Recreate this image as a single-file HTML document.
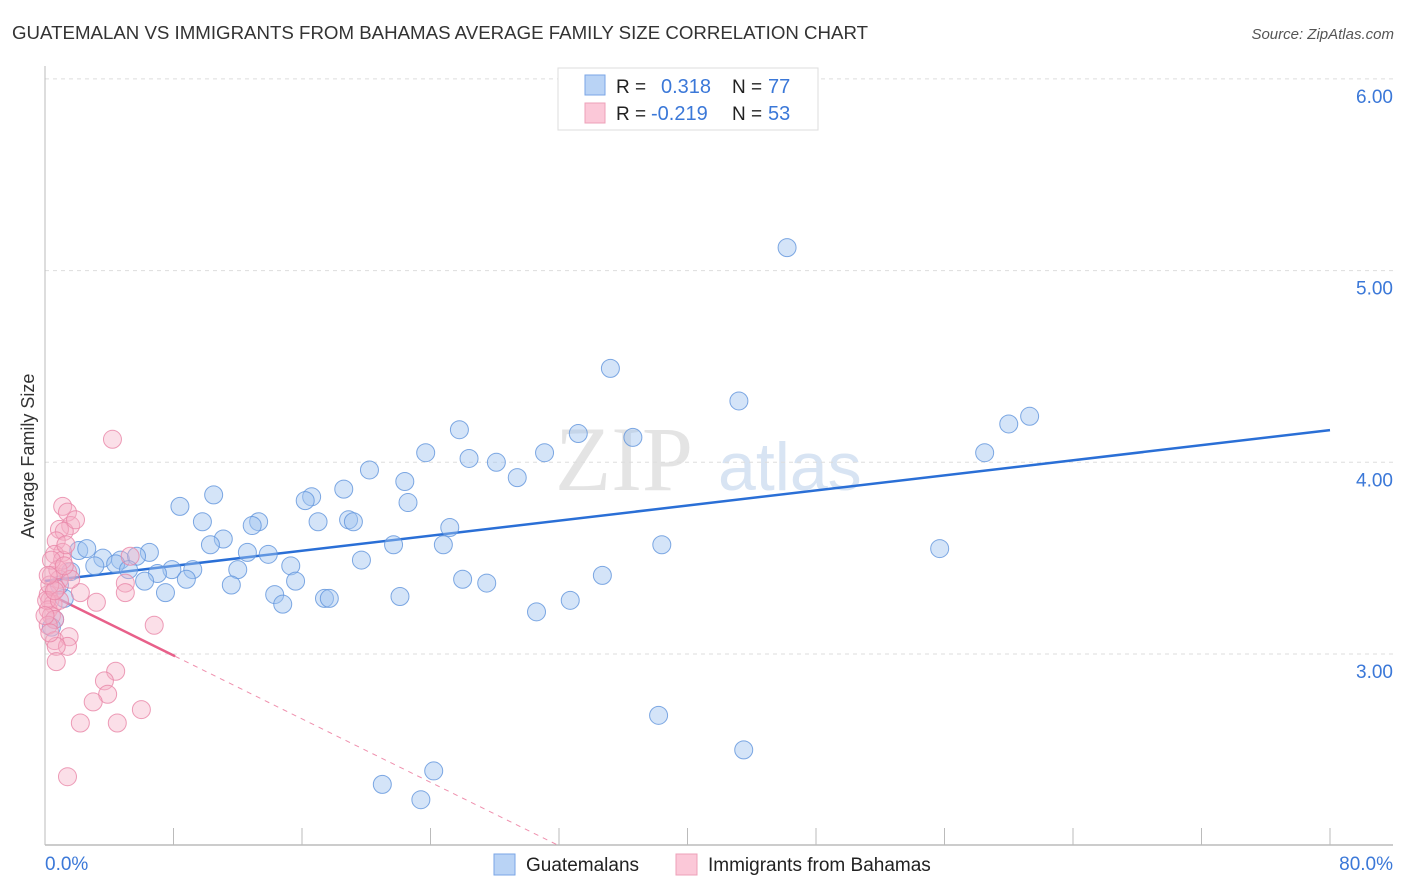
<!DOCTYPE html>
<html><head><meta charset="utf-8"><style>
html,body{margin:0;padding:0;background:#fff;}
svg{display:block;font-family:"Liberation Sans",sans-serif;}
</style></head><body>
<svg id="chart" width="1406" height="892" viewBox="0 0 1406 892" xmlns="http://www.w3.org/2000/svg">
<text x="12" y="39" font-size="18" fill="#333" textLength="856" lengthAdjust="spacingAndGlyphs">GUATEMALAN VS IMMIGRANTS FROM BAHAMAS AVERAGE FAMILY SIZE CORRELATION CHART</text>
<text x="1394" y="39" font-size="15" fill="#555" font-style="italic" text-anchor="end">Source: ZipAtlas.com</text>
<g>
<text x="555" y="490" font-size="92" font-family="Liberation Serif,serif" fill="#ddd" fill-opacity="0.8">ZIP</text>
<text x="718" y="490" font-size="68" fill="#c8d8ee" fill-opacity="0.7">atlas</text>
</g>
<g id="grid"></g>
<g id="axes"></g>
<g id="lines"></g>
<g id="points"></g>
<text transform="translate(34,456) rotate(-90)" font-size="18" fill="#333" text-anchor="middle">Average Family Size</text>
<g>
<rect x="558" y="68" width="260" height="62" fill="#fff" stroke="#ddd"/>
<rect x="585" y="75" width="20" height="20" fill="#b9d3f5" stroke="#7aa6e6"/>
<rect x="585" y="103" width="20" height="20" fill="#fbc8d8" stroke="#eea0b8"/>
<text x="616" y="93" font-size="19" fill="#222">R =</text>
<text x="661" y="93" font-size="20" fill="#3b78d8">0.318</text>
<text x="732" y="93" font-size="19" fill="#222">N =</text>
<text x="768" y="93" font-size="20" fill="#3b78d8">77</text>
<text x="616" y="120" font-size="19" fill="#222">R =</text>
<text x="651" y="120" font-size="20" fill="#3b78d8">-0.219</text>
<text x="732" y="120" font-size="19" fill="#222">N =</text>
<text x="768" y="120" font-size="20" fill="#3b78d8">53</text>
</g>
<g>
<rect x="494" y="854" width="21" height="21" fill="#b9d3f5" stroke="#7aa6e6"/>
<text x="526" y="871" font-size="19" fill="#222">Guatemalans</text>
<rect x="676" y="854" width="21" height="21" fill="#fbc8d8" stroke="#eea0b8"/>
<text x="708" y="871" font-size="19" fill="#222">Immigrants from Bahamas</text>
</g>
</svg>
<script>
const xTicks=[0,8,16,24,32,40,48,56,64,72,80];
const yTicks=[3,4,5,6];
const yTickLabels=["3.00","4.00","5.00","6.00"];
const xEndLabels=["0.0%","80.0%"];
const blueX=[46.2,35.2,43.2,61.3,60.0,25.8,36.6,33.2,23.7,31.1,26.4,28.1,58.5,20.2,22.4,29.4,10.5,18.6,16.6,16.2,8.4,22.6,9.8,13.3,12.9,18.9,19.2,17.0,25.2,11.1,10.3,21.7,24.8,38.4,55.7,6.5,12.6,13.9,15.3,19.7,2.1,2.6,3.6,4.7,5.7,3.1,4.4,5.2,7.9,9.2,7.0,12.0,1.6,6.2,8.8,11.6,15.6,26.0,27.5,34.7,7.5,14.3,14.8,17.4,17.7,22.1,30.6,32.7,1.2,0.6,0.4,38.2,43.5,21.0,24.2,23.4,0.9];
const blueY=[5.12,4.49,4.32,4.24,4.20,4.17,4.13,4.15,4.05,4.05,4.02,4.00,4.05,3.96,3.90,3.92,3.83,3.86,3.82,3.80,3.77,3.79,3.69,3.69,3.67,3.70,3.69,3.69,3.66,3.60,3.57,3.57,3.57,3.57,3.55,3.53,3.53,3.52,3.46,3.49,3.54,3.55,3.50,3.49,3.51,3.46,3.47,3.44,3.44,3.44,3.42,3.44,3.43,3.38,3.39,3.36,3.38,3.39,3.37,3.41,3.32,3.31,3.26,3.29,3.29,3.30,3.22,3.28,3.29,3.18,3.14,2.68,2.50,2.32,2.39,2.24,3.36];
const pinkX=[4.2,1.1,1.4,1.6,0.9,1.2,0.7,1.1,0.6,1.4,0.4,0.9,0.7,0.2,0.3,0.5,0.2,0.4,0.6,0.2,0.6,1.5,1.4,0.7,0.7,2.2,3.2,5.0,5.3,5.0,6.8,4.4,3.7,3.9,3.0,2.2,4.5,6.0,1.4,1.1,0.8,0.3,0.1,0.4,0.0,0.9,1.3,1.9,1.6,0.3,0.6,1.2,0.2];
const pinkY=[4.12,3.77,3.74,3.67,3.65,3.64,3.59,3.53,3.52,3.43,3.41,3.39,3.34,3.31,3.28,3.26,3.23,3.20,3.18,3.15,3.07,3.09,3.04,3.04,2.96,3.32,3.27,3.37,3.51,3.32,3.15,2.91,2.86,2.79,2.75,2.64,2.64,2.71,2.36,3.49,3.44,3.36,3.28,3.49,3.20,3.28,3.57,3.70,3.39,3.11,3.33,3.46,3.41];
const blueTrend=[3.381,4.168];
const pinkTrend=[3.323,2.0];
const pinkSolidEnd=8.1, pinkDashEnd=32;

const X0=45,X1=1330;
const sx=v=>X0+(v/80)*(X1-X0);
const sy=v=>654-(v-3)*191.7;
const NS="http://www.w3.org/2000/svg";
function mk(tag,attrs,parent){const e=document.createElementNS(NS,tag);for(const k in attrs)e.setAttribute(k,attrs[k]);parent.appendChild(e);return e;}
const grid=document.getElementById('grid'),axes=document.getElementById('axes'),lines=document.getElementById('lines'),pts=document.getElementById('points');
yTicks.forEach((t,i)=>{
  const l=mk('line',{x1:X0,x2:1393,y1:sy(t),y2:sy(t),stroke:'#ddd','stroke-dasharray':'4,4'},grid);
  
  
  const tx=mk('text',{x:1393,y:sy(t)+24,'font-size':19,fill:'#3b78d8','text-anchor':'end'},grid);
  tx.textContent=yTickLabels[i];
  
  
});
const yAxis=mk('line',{x1:X0,x2:X0,y1:66,y2:845,stroke:'#bbb'},axes);


const xAxis=mk('line',{x1:X0,x2:1393,y1:845,y2:845,stroke:'#bbb','stroke-width':1.5},axes);


xTicks.forEach(t=>{
  const l=mk('line',{x1:sx(t),x2:sx(t),y1:828,y2:845,stroke:'#bbb'},axes);
  
  
});
const xl0=mk('text',{x:X0,y:870,'font-size':19,fill:'#3b78d8'},axes);xl0.textContent=xEndLabels[0];


const xl1=mk('text',{x:1393,y:870,'font-size':19,fill:'#3b78d8','text-anchor':'end'},axes);xl1.textContent=xEndLabels[1];



blueX.forEach((x,i)=>{
  const c=mk('circle',{cx:sx(x),cy:sy(blueY[i]),r:9,fill:'rgba(160,195,240,0.45)',stroke:'#5f94dc','stroke-opacity':0.8,'stroke-width':1},pts);
  
  
});
pinkX.forEach((x,i)=>{
  const c=mk('circle',{cx:sx(x),cy:sy(pinkY[i]),r:9,fill:'rgba(245,175,198,0.4)',stroke:'#e884a6','stroke-opacity':0.8,'stroke-width':1},pts);
  
  
});
const pAt=x=>pinkTrend[0]+(pinkTrend[1]-pinkTrend[0])*x/pinkDashEnd;
const bl=mk('line',{x1:sx(0),y1:sy(blueTrend[0]),x2:sx(80),y2:sy(blueTrend[1]),stroke:'#2a6fd6','stroke-width':2.5},lines);


const pl=mk('line',{x1:sx(0),y1:sy(pAt(0)),x2:sx(pinkSolidEnd),y2:sy(pAt(pinkSolidEnd)),stroke:'#e8608a','stroke-width':2.5},lines);


const pd=mk('line',{x1:sx(pinkSolidEnd),y1:sy(pAt(pinkSolidEnd)),x2:sx(pinkDashEnd),y2:sy(pAt(pinkDashEnd)),stroke:'#e8608a','stroke-width':1,'stroke-dasharray':'5,5','stroke-opacity':0.7},lines);


</script>
</body></html>
